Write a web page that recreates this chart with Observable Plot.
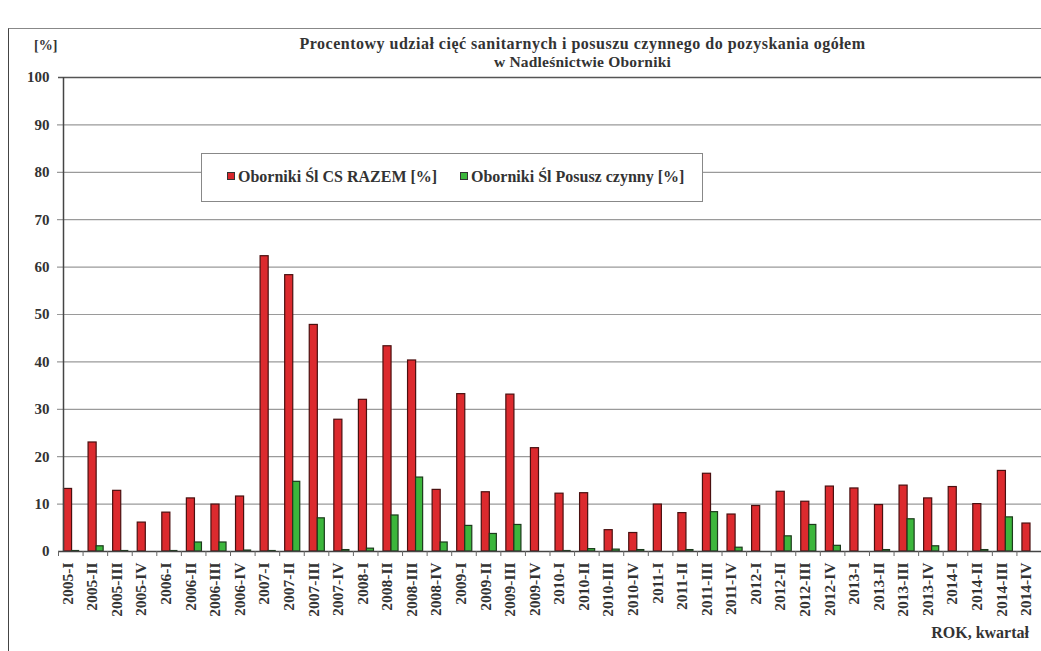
<!DOCTYPE html>
<html>
<head>
<meta charset="utf-8">
<script src="https://cdn.jsdelivr.net/npm/d3@7"></script>
<script src="https://cdn.jsdelivr.net/npm/@observablehq/plot@0.6"></script>
<style>
  body { margin: 0; background: #fff; }
  #wrap { position: relative; width: 1041px; height: 651px; overflow: hidden; font-family: "Liberation Serif", "DejaVu Serif", serif; font-weight: bold; color: #222; }
  #border { position: absolute; left: 8px; top: 28px; width: 1040px; height: 640px; border-left: 1.5px solid #444; border-top: 1px solid #888; }
  .title { position: absolute; left: 0; width: 1165px; text-align: center; color: #333; }
  #unit { position: absolute; left: 34px; top: 38px; font-size: 14px; color: #333; }
  #xlab { position: absolute; right: 12px; top: 624px; font-size: 16px; color: #333; }
  #legend { position: absolute; left: 201px; top: 153px; width: 500px; height: 47px; border: 1px solid #888; background: #fff; font-size: 16px; color: #333; }
  .li { position: absolute; top: 14px; white-space: nowrap; }
  .sw { display: inline-block; width: 6px; height: 6px; border: 1px solid #333; margin-right: 3px; vertical-align: 2px; }
  svg { position: absolute; left: 0; top: 0; }
</style>
</head>
<body>
<div id="wrap">
  <div id="border"></div>
  <div id="chart"></div>
  <div class="title" style="top:35px; font-size:16px; letter-spacing:0.5px">Procentowy udział cięć sanitarnych i posuszu czynnego do pozyskania ogółem</div>
  <div class="title" style="top:53px; font-size:15.5px; letter-spacing:0.2px">w Nadleśnictwie Oborniki</div>
  <div id="unit">[%]</div>
  <div id="legend">
    <div class="li" style="left:25px"><span class="sw" style="background:#d8262b"></span>Oborniki Śl CS RAZEM [%]</div>
    <div class="li" style="left:258px"><span class="sw" style="background:#3cb63c"></span>Oborniki Śl Posusz czynny [%]</div>
  </div>
  <div id="xlab">ROK, kwartał</div>
</div>
<script>
const categories = [
  "2005-I","2005-II","2005-III","2005-IV",
  "2006-I","2006-II","2006-III","2006-IV",
  "2007-I","2007-II","2007-III","2007-IV",
  "2008-I","2008-II","2008-III","2008-IV",
  "2009-I","2009-II","2009-III","2009-IV",
  "2010-I","2010-II","2010-III","2010-IV",
  "2011-I","2011-II","2011-III","2011-IV",
  "2012-I","2012-II","2012-III","2012-IV",
  "2013-I","2013-II","2013-III","2013-IV",
  "2014-I","2014-II","2014-III","2014-IV"
];
const csRazem = [
  13.2, 23.0, 12.8, 6.1,
  8.2, 11.2, 9.9, 11.6,
  62.3, 58.3, 47.8, 27.8,
  32.0, 43.3, 40.3, 13.0,
  33.2, 12.5, 33.1, 21.8,
  12.2, 12.3, 4.5, 3.9,
  9.9, 8.1, 16.4, 7.8,
  9.6, 12.6, 10.5, 13.7,
  13.3, 9.8, 13.9, 11.2,
  13.6, 10.0, 17.0, 5.9
];
const posusz = [
  0.1, 1.1, 0.1, 0.0,
  0.1, 1.9, 1.9, 0.2,
  0.1, 14.7, 7.0, 0.3,
  0.6, 7.6, 15.6, 1.9,
  5.4, 3.7, 5.6, 0.0,
  0.1, 0.5, 0.4, 0.3,
  0.0, 0.3, 8.3, 0.8,
  0.0, 3.2, 5.6, 1.2,
  0.0, 0.3, 6.8, 1.1,
  0.0, 0.3, 7.2, 0.0
];
const yTicks = [0, 10, 20, 30, 40, 50, 60, 70, 80, 90, 100];

const rows = categories.map((c, i) => ({cat: c, cs: csRazem[i], pos: posusz[i]}));
const band = (1041 - 58) / categories.length;

const chart = Plot.plot({
  width: 1041,
  height: 651,
  marginTop: 77,
  marginBottom: 100,
  marginLeft: 58,
  marginRight: 0,
  style: {fontFamily: "'Liberation Serif', serif", fontWeight: "bold", fontSize: "15px", color: "#333", background: "transparent"},
  x: {type: "band", domain: categories, padding: 0, round: false, label: null},
  y: {domain: [0, 100], label: null},
  marks: [
    Plot.ruleY(yTicks.filter(d => d > 0 && d < 100), {stroke: "#9a9a9a", strokeWidth: 1.2, insetLeft: -1}),
    Plot.ruleY([100], {stroke: "#555", strokeWidth: 1.5}),
    Plot.barY(rows, {x: "cat", y: "cs", fill: "#dc2a2e", stroke: "#4a1010", strokeWidth: 1.2, insetLeft: 5.5, insetRight: 11}),
    Plot.barY(rows, {x: "cat", y: "pos", fill: "#3cb63c", stroke: "#1c3a1c", strokeWidth: 1.2, insetLeft: 13.5, insetRight: 4}),
    Plot.ruleY([0], {stroke: "#444", strokeWidth: 1.5}),
    Plot.ruleX(categories, {x: d => d, y1: 0, y2: 0, insetBottom: -5, dx: -band / 2, stroke: "#666"}),
    Plot.ruleX([0], {x: () => categories[0], y1: 0, y2: 100, dx: 5 - band / 2, stroke: "#444", strokeWidth: 1.5}),
    Plot.axisY(yTicks, {tickSize: 0, tickPadding: 9, fontSize: 15, fontWeight: "bold", fill: "#333"}),
    Plot.axisX(categories, {tickSize: 0, tickRotate: -90, tickPadding: 11, dx: -3, fontSize: 15.5, fontWeight: "bold", fill: "#333"})
  ]
});
document.getElementById("chart").appendChild(chart);
</script>
</body>
</html>
